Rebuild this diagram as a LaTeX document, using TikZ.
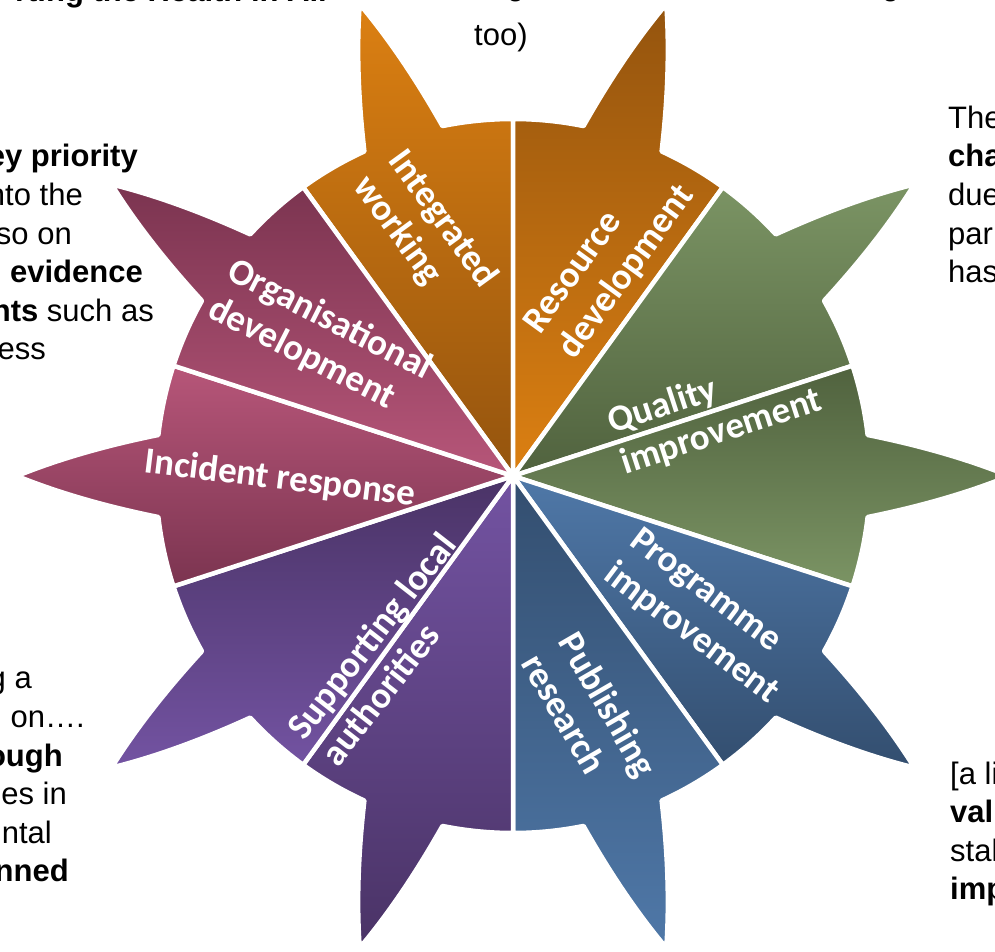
\documentclass[tikz,border=0pt]{standalone}
\usepackage{fontspec}
\setmainfont{Liberation Sans}
\newfontfamily\labelfont{Carlito}
\usetikzlibrary{positioning}

\definecolor{orangeL}{RGB}{220,128,18}
\definecolor{orangeD}{RGB}{148,84,14}
\definecolor{greenL}{RGB}{123,148,100}
\definecolor{greenD}{RGB}{80,98,62}
\definecolor{blueL}{RGB}{79,120,168}
\definecolor{blueD}{RGB}{51,78,111}
\definecolor{purpleL}{RGB}{115,83,162}
\definecolor{purpleD}{RGB}{74,51,102}
\definecolor{pinkL}{RGB}{183,86,121}
\definecolor{pinkD}{RGB}{123,52,80}

% one wheel segment: axis angle, top colour, bottom colour
\newcommand{\petal}[3]{%
  \shadedraw[petal, top color=#2, bottom color=#3]
    (0,0) -- ({#1-18}:357) arc[start angle={#1-18}, end angle={#1-6.6}, radius=357]
    .. controls ({#1-4.25}:408.8) and ({#1-2.1}:455.2) .. (#1:496)
    .. controls ({#1+2.1}:455.2) and ({#1+4.25}:408.8) .. ({#1+6.6}:357)
    arc[start angle={#1+6.6}, end angle={#1+18}, radius=357] -- cycle;}

\tikzset{
  petal/.style={draw=white, line width=4.5, line join=round},
  seglabel/.style={text=white, align=left, inner sep=0pt,
    font=\labelfont\bfseries\fontsize{37}{43}\selectfont},
  sidetext/.style={inner sep=0pt, font=\fontsize{31}{38.5}\selectfont}
}

\begin{document}
\begin{tikzpicture}[x=1pt, y=1pt]

\useasboundingbox (-513,-475) rectangle (482,476);
\clip (-513,-475) rectangle (482,476);

% wheel
\petal{108}{orangeL}{orangeD}
\petal{72}{orangeD}{orangeL}
\petal{36}{greenL}{greenD}
\petal{0}{greenD}{greenL}
\petal{-36}{blueL}{blueD}
\petal{-72}{blueD}{blueL}
\petal{-108}{purpleL}{purpleD}
\petal{-144}{purpleD}{purpleL}
\petal{180}{pinkL}{pinkD}
\petal{144}{pinkD}{pinkL}

% segment labels
\node[seglabel, rotate=-54] (integrated) at (-88,244) {Integrated\\working};
\node[seglabel, rotate=54] (resource) at (97,216) {Resource\\development};
\node[seglabel, rotate=18] (quality) at (202,64) {Quality\\improvement};
\node[seglabel, rotate=-37] (programme) at (191,-141) {Programme\\improvement};
\node[seglabel, rotate=-60] (publishing) at (77,-239) {Publishing\\research};
\node[seglabel, rotate=52] (supporting) at (-125,-173) {Supporting local\\authorities};
\node[seglabel, rotate=-7] (incident) at (-233,-3) {Incident response};
\node[seglabel, rotate=-27] (organisational) at (-193,137) {Organisational\\development};

% text cut off at the top
\node[sidetext, anchor=base east, font=\bfseries\fontsize{31}{38.5}\selectfont] (topleft) at (-186,474) {rting the Health in All};
\node[sidetext, anchor=base west] (topg1) at (-6,480) {g};
\node[sidetext, anchor=base west] (topg2) at (369,480) {g};
\node[sidetext, anchor=base west] (toomid) at (-39,430) {too)};

% text cut off at the left, upper
\node[sidetext, anchor=base east] (lu1) at (-375,309) {\bfseries ey priority};
\node[sidetext, anchor=base east] (lu2) at (-430,270.5) {nto the};
\node[sidetext, anchor=base east] (lu3) at (-441,232) {so on};
\node[sidetext, anchor=base east] (lu4) at (-370,193.5) {\bfseries evidence};
\node[sidetext, anchor=base east] (lu5) at (-359,155) {\textbf{nts} such as};
\node[sidetext, anchor=base east] (lu6) at (-467,116.5) {ess};

% text cut off at the left, lower
\node[sidetext, anchor=base east] (ll1) at (-481,-212) {g a};
\node[sidetext, anchor=base east] (ll2) at (-428,-251) {on….};
\node[sidetext, anchor=base east] (ll3) at (-450,-290) {\bfseries ough};
\node[sidetext, anchor=base east] (ll4) at (-446,-328) {es in};
\node[sidetext, anchor=base east] (ll5) at (-461,-367) {ntal};
\node[sidetext, anchor=base east] (ll6) at (-444,-405) {\bfseries nned};

% text cut off at the right, upper
\node[sidetext, anchor=base west] (ru1) at (435,347.5) {The};
\node[sidetext, anchor=base west] (ru2) at (435,309) {\bfseries cha};
\node[sidetext, anchor=base west] (ru3) at (435,270.5) {due};
\node[sidetext, anchor=base west] (ru4) at (435,232) {par};
\node[sidetext, anchor=base west] (ru5) at (435,193.5) {has};

% text cut off at the right, lower
\node[sidetext, anchor=base west] (rl1) at (437,-308) {[a li};
\node[sidetext, anchor=base west] (rl2) at (437,-346.5) {\bfseries val};
\node[sidetext, anchor=base west] (rl3) at (437,-385) {stal};
\node[sidetext, anchor=base west] (rl4) at (437,-423.5) {\bfseries imp};

\end{tikzpicture}
\end{document}
